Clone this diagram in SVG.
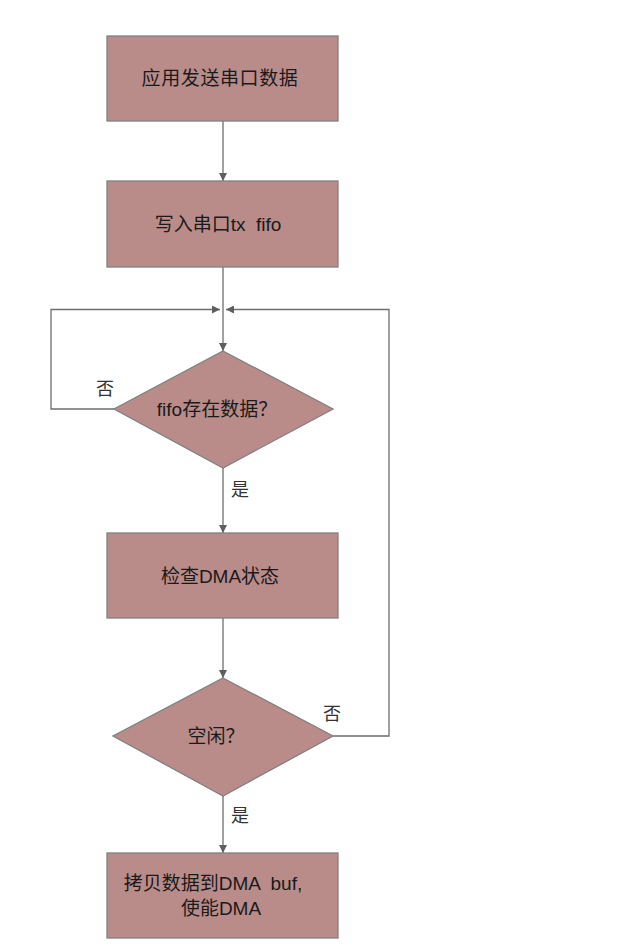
<svg xmlns="http://www.w3.org/2000/svg" width="617" height="951" viewBox="0 0 617 951">
<style>
.node{fill:#b98c8a;stroke:#808080;stroke-width:1.3}
.t{font-family:"Liberation Sans","Noto Sans CJK SC",sans-serif;font-size:19px;fill:#1a1a1a;text-anchor:middle;dominant-baseline:central;white-space:pre}
.lbl{font-family:"Noto Sans CJK SC",sans-serif;font-size:18px;fill:#333;text-anchor:middle;dominant-baseline:central}
.c{fill:none;stroke:#6e6e6e;stroke-width:1.3}
</style>
<defs>
<marker id="ah" viewBox="0 0 10 10" refX="10" refY="5" markerWidth="8" markerHeight="8" markerUnits="userSpaceOnUse" orient="auto">
<path d="M0,0 L10,5 L0,10 z" fill="#5e5e5e"/>
</marker>
</defs>
<rect width="617" height="951" fill="#fff"/>
<g id="connectors">
<line class="c" x1="223" y1="121" x2="223" y2="181" marker-end="url(#ah)"/>
<line class="c" x1="223" y1="267" x2="223" y2="351" marker-end="url(#ah)"/>
<polyline class="c" points="114,409 51,409 51,309.5 220,309.5" marker-end="url(#ah)"/>
<polyline class="c" points="333,736 389,736 389,309.5 226,309.5" marker-end="url(#ah)"/>
<line class="c" x1="223" y1="468" x2="223" y2="533" marker-end="url(#ah)"/>
<line class="c" x1="223" y1="618" x2="223" y2="678" marker-end="url(#ah)"/>
<line class="c" x1="223" y1="796" x2="223" y2="853" marker-end="url(#ah)"/>
<text class="lbl" x="105" y="387">否</text>
<text class="lbl" x="240" y="488">是</text>
<text class="lbl" x="332" y="712">否</text>
<text class="lbl" x="240" y="814">是</text>
</g>
<g id="n1">
<rect class="node" x="107" y="36" width="231" height="85"/>
<text class="t" x="220" y="78" letter-spacing="0.6">应用发送串口数据</text>
</g>
<g id="n2">
<rect class="node" x="107" y="181" width="231" height="86"/>
<text class="t" x="218" y="224">写入串口tx  fifo</text>
</g>
<g id="d1">
<polygon class="node" points="223,351 333,409 223,468 114,409"/>
<text class="t" x="217" y="409">fifo存在数据？</text>
</g>
<g id="n3">
<rect class="node" x="107" y="533" width="231" height="85"/>
<text class="t" x="220" y="576">检查DMA状态</text>
</g>
<g id="d2">
<polygon class="node" points="223,678 333,736 223,796 113,736"/>
<text class="t" x="216" y="736">空闲？</text>
</g>
<g id="n4">
<rect class="node" x="107" y="853" width="231" height="85"/>
<text class="t" x="213" y="883">拷贝数据到DMA  buf,</text>
<text class="t" x="221" y="908">使能DMA</text>
</g>
</svg>
